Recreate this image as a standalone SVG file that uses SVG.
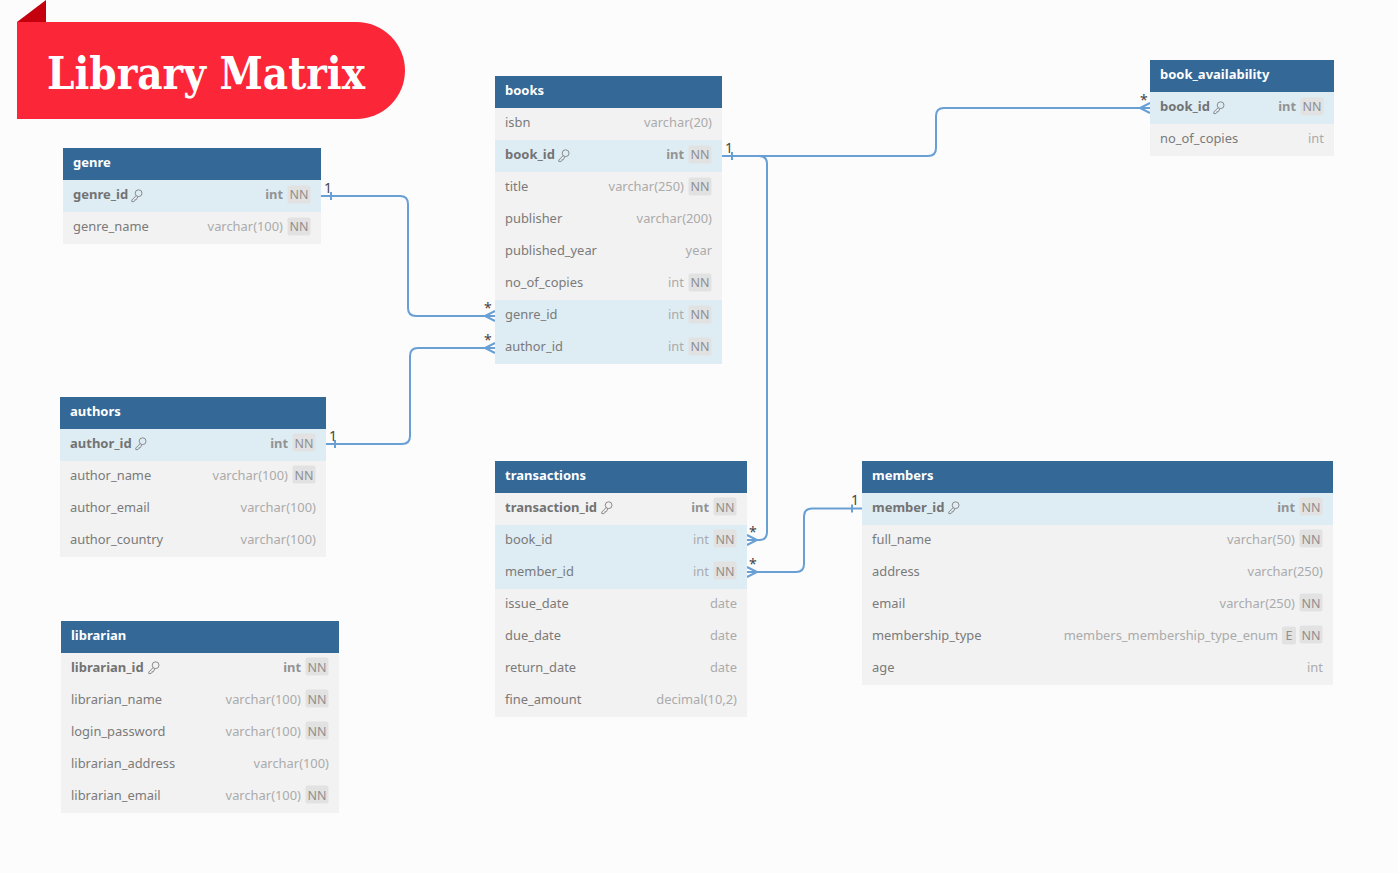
<svg xmlns="http://www.w3.org/2000/svg" xmlns:xlink="http://www.w3.org/1999/xlink" width="1398" height="873" viewBox="0 0 1398 873">
<style>
text{font-family:"Noto Sans","Open Sans",sans-serif;font-size:12.9px}
#authors text,#librarian text,#transactions text,#members text{transform:translateY(.6px)}
#books text{transform:translateY(.2px)}
.h{fill:#336897}.r{fill:#f2f2f2}.f{fill:#deedf4}.b{fill:#e2e2e2}
text.ht{fill:#fff;font-weight:700;font-size:13px}
.n{fill:#7a7a7a}text.k{fill:#737373;font-weight:700;font-size:13px}
.t{fill:#ababab;text-anchor:end}.tk{fill:#939393;font-weight:700;text-anchor:end}
text.nn{fill:#8f8f8f;text-anchor:middle;font-size:12.5px}
.c{fill:none;stroke:#689fd4;stroke-width:2}
.l text{fill:#444;font-size:14px}
</style>
<defs>
<g id="key" fill="none" stroke="#8a8a8a" stroke-width="1"><circle cx="7.600" cy="-6.800" r="3.400"/><path d="M5.200 -4.400L0.800 0V1.600H3L3.800 0.800V-0.200H5.200L7 -3.400"/></g>
<rect id="nb" x="-11.500" y="-9.500" width="23" height="18" rx="2" class="b"/>
<path id="crow" d="M0 -5L-10 0L0 5M-10 0H0" fill="none" stroke="#689fd4" stroke-width="2"/>
</defs>
<rect width="1398" height="873" fill="#fcfcfc"/>
<g id="title">
<path d="M17 22L46 0V22Z" fill="#c4000f"/>
<path d="M17 22H356.500A48.500 48.500 0 0 1 356.500 119H17Z" fill="#fb2637"/>
<text x="47" y="89" textLength="318" lengthAdjust="spacingAndGlyphs" style="font-family:'DejaVu Serif',serif;font-size:45px;font-weight:700" fill="#fff">Library Matrix</text>
</g>
<g id="connectors">
<path class="c" d="M321 196H400Q408 196 408 204V308Q408 316 416 316H495"/>
<path class="c" d="M326 444H402Q410 444 410 436V356Q410 348 418 348H495"/>
<path class="c" d="M722 156H928Q936 156 936 148V116Q936 108 944 108H1150"/>
<path class="c" d="M722 156H759Q767 156 767 164V532Q767 540 759 540H747"/>
<path class="c" d="M862 508.500H812Q804 508.500 804 516.500V564Q804 572 796 572H747"/>
<use href="#crow" x="495" y="316"/>
<use href="#crow" x="495" y="348"/>
<use href="#crow" x="1150" y="108"/>
<use href="#crow" transform="translate(747 540) scale(-1 1)"/>
<use href="#crow" transform="translate(747 572) scale(-1 1)"/>
<path class="c" d="M331 192V200M335 440V448M732 152V160M852 504.500V512.500"/>
<g class="l">
<text x="324" y="193">1</text><text x="329" y="441">1</text><text x="725" y="153">1</text><text x="851" y="505">1</text>
<text x="484" y="313">*</text><text x="484" y="345">*</text><text x="1140" y="105">*</text><text x="749" y="537">*</text><text x="749" y="569">*</text>
</g>
</g>
<g id="genre">
<rect class="h" x="63" y="148" width="258" height="32"/><rect class="f" x="63" y="180" width="258" height="32"/><rect class="r" x="63" y="212" width="258" height="32"/>
<text class="ht" x="73" y="167">genre</text>
<text class="k" x="73" y="199">genre_id</text><use href="#key" x="131" y="200"/><text class="tk" x="283" y="199">int</text><use href="#nb" x="299" y="195"/><text class="nn" x="299" y="199">NN</text>
<text class="n" x="73" y="231">genre_name</text><text class="t" x="283" y="231">varchar(100)</text><use href="#nb" x="299" y="227"/><text class="nn" x="299" y="231">NN</text>
</g>
<g id="authors">
<rect class="h" x="60" y="397" width="266" height="32"/><rect class="f" x="60" y="429" width="266" height="32"/><rect class="r" x="60" y="461" width="266" height="96"/>
<text class="ht" x="70" y="415">authors</text>
<text class="k" x="70" y="447">author_id</text><use href="#key" x="135" y="448"/><text class="tk" x="288" y="447">int</text><use href="#nb" x="304" y="443"/><text class="nn" x="304" y="447">NN</text>
<text class="n" x="70" y="479">author_name</text><text class="t" x="288" y="479">varchar(100)</text><use href="#nb" x="304" y="475"/><text class="nn" x="304" y="479">NN</text>
<text class="n" x="70" y="511">author_email</text><text class="t" x="316" y="511">varchar(100)</text>
<text class="n" x="70" y="543">author_country</text><text class="t" x="316" y="543">varchar(100)</text>
</g>
<g id="librarian">
<rect class="h" x="61" y="621" width="278" height="32"/><rect class="r" x="61" y="653" width="278" height="160"/>
<text class="ht" x="71" y="639">librarian</text>
<text class="k" x="71" y="671">librarian_id</text><use href="#key" x="148" y="672"/><text class="tk" x="301" y="671">int</text><use href="#nb" x="317" y="667"/><text class="nn" x="317" y="671">NN</text>
<text class="n" x="71" y="703">librarian_name</text><text class="t" x="301" y="703">varchar(100)</text><use href="#nb" x="317" y="699"/><text class="nn" x="317" y="703">NN</text>
<text class="n" x="71" y="735">login_password</text><text class="t" x="301" y="735">varchar(100)</text><use href="#nb" x="317" y="731"/><text class="nn" x="317" y="735">NN</text>
<text class="n" x="71" y="767">librarian_address</text><text class="t" x="329" y="767">varchar(100)</text>
<text class="n" x="71" y="799">librarian_email</text><text class="t" x="301" y="799">varchar(100)</text><use href="#nb" x="317" y="795"/><text class="nn" x="317" y="799">NN</text>
</g>
<g id="books">
<rect class="h" x="495" y="76" width="227" height="32"/><rect class="r" x="495" y="108" width="227" height="192"/><rect class="f" x="495" y="140" width="227" height="32"/><rect class="f" x="495" y="300" width="227" height="64"/>
<text class="ht" x="505" y="95">books</text>
<text class="n" x="505" y="127">isbn</text><text class="t" x="712" y="127">varchar(20)</text>
<text class="k" x="505" y="159">book_id</text><use href="#key" x="558" y="160"/><text class="tk" x="684" y="159">int</text><use href="#nb" x="700" y="155"/><text class="nn" x="700" y="159">NN</text>
<text class="n" x="505" y="191">title</text><text class="t" x="684" y="191">varchar(250)</text><use href="#nb" x="700" y="187"/><text class="nn" x="700" y="191">NN</text>
<text class="n" x="505" y="223">publisher</text><text class="t" x="712" y="223">varchar(200)</text>
<text class="n" x="505" y="255">published_year</text><text class="t" x="712" y="255">year</text>
<text class="n" x="505" y="287">no_of_copies</text><text class="t" x="684" y="287">int</text><use href="#nb" x="700" y="283"/><text class="nn" x="700" y="287">NN</text>
<text class="n" x="505" y="319">genre_id</text><text class="t" x="684" y="319">int</text><use href="#nb" x="700" y="315"/><text class="nn" x="700" y="319">NN</text>
<text class="n" x="505" y="351">author_id</text><text class="t" x="684" y="351">int</text><use href="#nb" x="700" y="347"/><text class="nn" x="700" y="351">NN</text>
</g>
<g id="transactions">
<rect class="h" x="495" y="461" width="252" height="32"/><rect class="r" x="495" y="493" width="252" height="224"/><rect class="f" x="495" y="525" width="252" height="64"/>
<text class="ht" x="505" y="479">transactions</text>
<text class="k" x="505" y="511">transaction_id</text><use href="#key" x="601" y="512"/><text class="tk" x="709" y="511">int</text><use href="#nb" x="725" y="507"/><text class="nn" x="725" y="511">NN</text>
<text class="n" x="505" y="543">book_id</text><text class="t" x="709" y="543">int</text><use href="#nb" x="725" y="539"/><text class="nn" x="725" y="543">NN</text>
<text class="n" x="505" y="575">member_id</text><text class="t" x="709" y="575">int</text><use href="#nb" x="725" y="571"/><text class="nn" x="725" y="575">NN</text>
<text class="n" x="505" y="607">issue_date</text><text class="t" x="737" y="607">date</text>
<text class="n" x="505" y="639">due_date</text><text class="t" x="737" y="639">date</text>
<text class="n" x="505" y="671">return_date</text><text class="t" x="737" y="671">date</text>
<text class="n" x="505" y="703">fine_amount</text><text class="t" x="737" y="703">decimal(10,2)</text>
</g>
<g id="members">
<rect class="h" x="862" y="461" width="471" height="32"/><rect class="f" x="862" y="493" width="471" height="32"/><rect class="r" x="862" y="525" width="471" height="160"/>
<text class="ht" x="872" y="479">members</text>
<text class="k" x="872" y="511">member_id</text><use href="#key" x="948" y="512"/><text class="tk" x="1295" y="511">int</text><use href="#nb" x="1311" y="507"/><text class="nn" x="1311" y="511">NN</text>
<text class="n" x="872" y="543">full_name</text><text class="t" x="1295" y="543">varchar(50)</text><use href="#nb" x="1311" y="539"/><text class="nn" x="1311" y="543">NN</text>
<text class="n" x="872" y="575">address</text><text class="t" x="1323" y="575">varchar(250)</text>
<text class="n" x="872" y="607">email</text><text class="t" x="1295" y="607">varchar(250)</text><use href="#nb" x="1311" y="603"/><text class="nn" x="1311" y="607">NN</text>
<text class="n" x="872" y="639">membership_type</text><text class="t" x="1278" y="639">members_membership_type_enum</text><rect class="b" x="1282" y="626.500" width="14" height="18" rx="2"/><text class="nn" x="1289" y="639">E</text><use href="#nb" x="1311" y="635"/><text class="nn" x="1311" y="639">NN</text>
<text class="n" x="872" y="671">age</text><text class="t" x="1323" y="671">int</text>
</g>
<g id="book_availability">
<rect class="h" x="1150" y="60" width="184" height="32"/><rect class="f" x="1150" y="92" width="184" height="32"/><rect class="r" x="1150" y="124" width="184" height="32"/>
<text class="ht" x="1160" y="79">book_availability</text>
<text class="k" x="1160" y="111">book_id</text><use href="#key" x="1213" y="112"/><text class="tk" x="1296" y="111">int</text><use href="#nb" x="1312" y="107"/><text class="nn" x="1312" y="111">NN</text>
<text class="n" x="1160" y="143">no_of_copies</text><text class="t" x="1324" y="143">int</text>
</g>
</svg>
